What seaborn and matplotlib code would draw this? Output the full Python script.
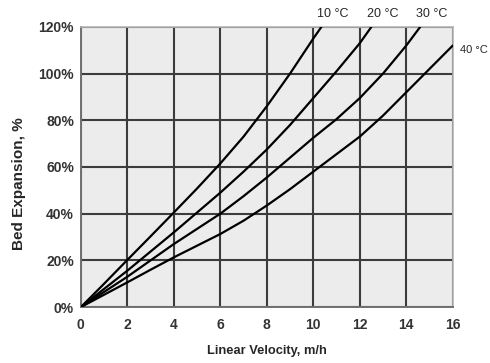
import matplotlib
matplotlib.use("Agg")
import matplotlib.pyplot as plt
from matplotlib.ticker import PercentFormatter
import pandas as pd
import seaborn as sns

# Bed expansion (%) vs linear velocity (m/h) per temperature
vel_10 = [0, 1, 2, 3, 4, 5, 6, 7, 8, 9, 10, 10.35]
exp_10 = [0, 10, 20.2, 30.3, 40.5, 50.8, 61.5, 73, 86, 100, 115, 120]

vel_20 = [0, 1, 2, 3, 4, 5, 6, 7, 8, 9, 10, 11, 12, 12.5]
exp_20 = [0, 7.8, 15.6, 23.8, 32, 40.5, 49, 58, 67.5, 78, 89.5, 101, 113, 120]

vel_30 = [0, 1, 2, 3, 4, 5, 6, 7, 8, 9, 10, 11, 12, 13, 14, 14.6]
exp_30 = [0, 6.5, 13, 20, 27, 33.5, 40, 47.5, 55.5, 64, 72.5, 80.5, 89.5, 100, 112, 120]

vel_40 = [0, 1, 2, 3, 4, 5, 6, 7, 8, 9, 10, 11, 12, 13, 14, 15, 16]
exp_40 = [0, 5.3, 10.6, 16, 21.3, 26.3, 31.3, 37, 43.5, 50.5, 58, 65.5, 73, 82, 92, 102, 112]

temps = ["10 °C", "20 °C", "30 °C", "40 °C"]
series = [(vel_10, exp_10), (vel_20, exp_20), (vel_30, exp_30), (vel_40, exp_40)]

frames = []
for t, (v, e) in zip(temps, series):
    frames.append(pd.DataFrame({"velocity": v, "expansion": e, "temp": t}))
df = pd.concat(frames, ignore_index=True)

sns.set_style("white")
plt.rcParams["font.family"] = ["Liberation Sans Narrow", "Liberation Sans", "DejaVu Sans"]

fig = plt.figure(figsize=(4.9, 3.63), dpi=100)
ax = fig.add_axes([0.165, 0.154, 0.759, 0.772])
ax.set_facecolor("#ececec")

sns.lineplot(data=df, x="velocity", y="expansion", units="temp", estimator=None,
             color="black", linewidth=1.6, sort=False, ax=ax, zorder=3)

ax.set_xlim(0, 16)
ax.set_ylim(0, 120)
ax.set_xticks(range(0, 17, 2))
ax.set_yticks(range(0, 121, 20))
ax.yaxis.set_major_formatter(PercentFormatter(decimals=0))
ax.grid(True, color="#3c3c3c", linewidth=1.5, zorder=1)
ax.set_axisbelow(True)

for side in ["top", "right"]:
    ax.spines[side].set_color("#b5b5b5")
    ax.spines[side].set_linewidth(1.2)
for side in ["left", "bottom"]:
    ax.spines[side].set_color("#707070")
    ax.spines[side].set_linewidth(1.4)

ax.tick_params(axis="both", length=3, width=1, color="#555555", labelsize=10,
               labelcolor="#333333")
ax.tick_params(axis="x", pad=5)
ax.tick_params(axis="y", pad=2)
for lab in ax.get_xticklabels() + ax.get_yticklabels():
    lab.set_fontweight("bold")

ax.set_xlabel("Linear Velocity, m/h", fontsize=9.3, fontweight="bold")
ax.xaxis.set_label_coords(0.5, -0.137)
ax.set_ylabel("Bed Expansion, %", fontsize=11, fontweight="bold",
              family=["Liberation Sans", "DejaVu Sans"])
ax.yaxis.set_label_coords(-0.148, 0.44)

# temperature labels at the curve ends
for t, (v, e) in zip(temps[:3], series[:3]):
    ax.annotate(t, (v[-1], e[-1]), xytext=(8.5, 5), textcoords="offset points",
                ha="center", va="bottom", fontsize=9, annotation_clip=False)
ax.annotate(temps[3], (vel_40[-1], exp_40[-1]), xytext=(5, -3),
            textcoords="offset points", ha="left", va="center", fontsize=8,
            annotation_clip=False)

fig.savefig("out.png", dpi=100)
